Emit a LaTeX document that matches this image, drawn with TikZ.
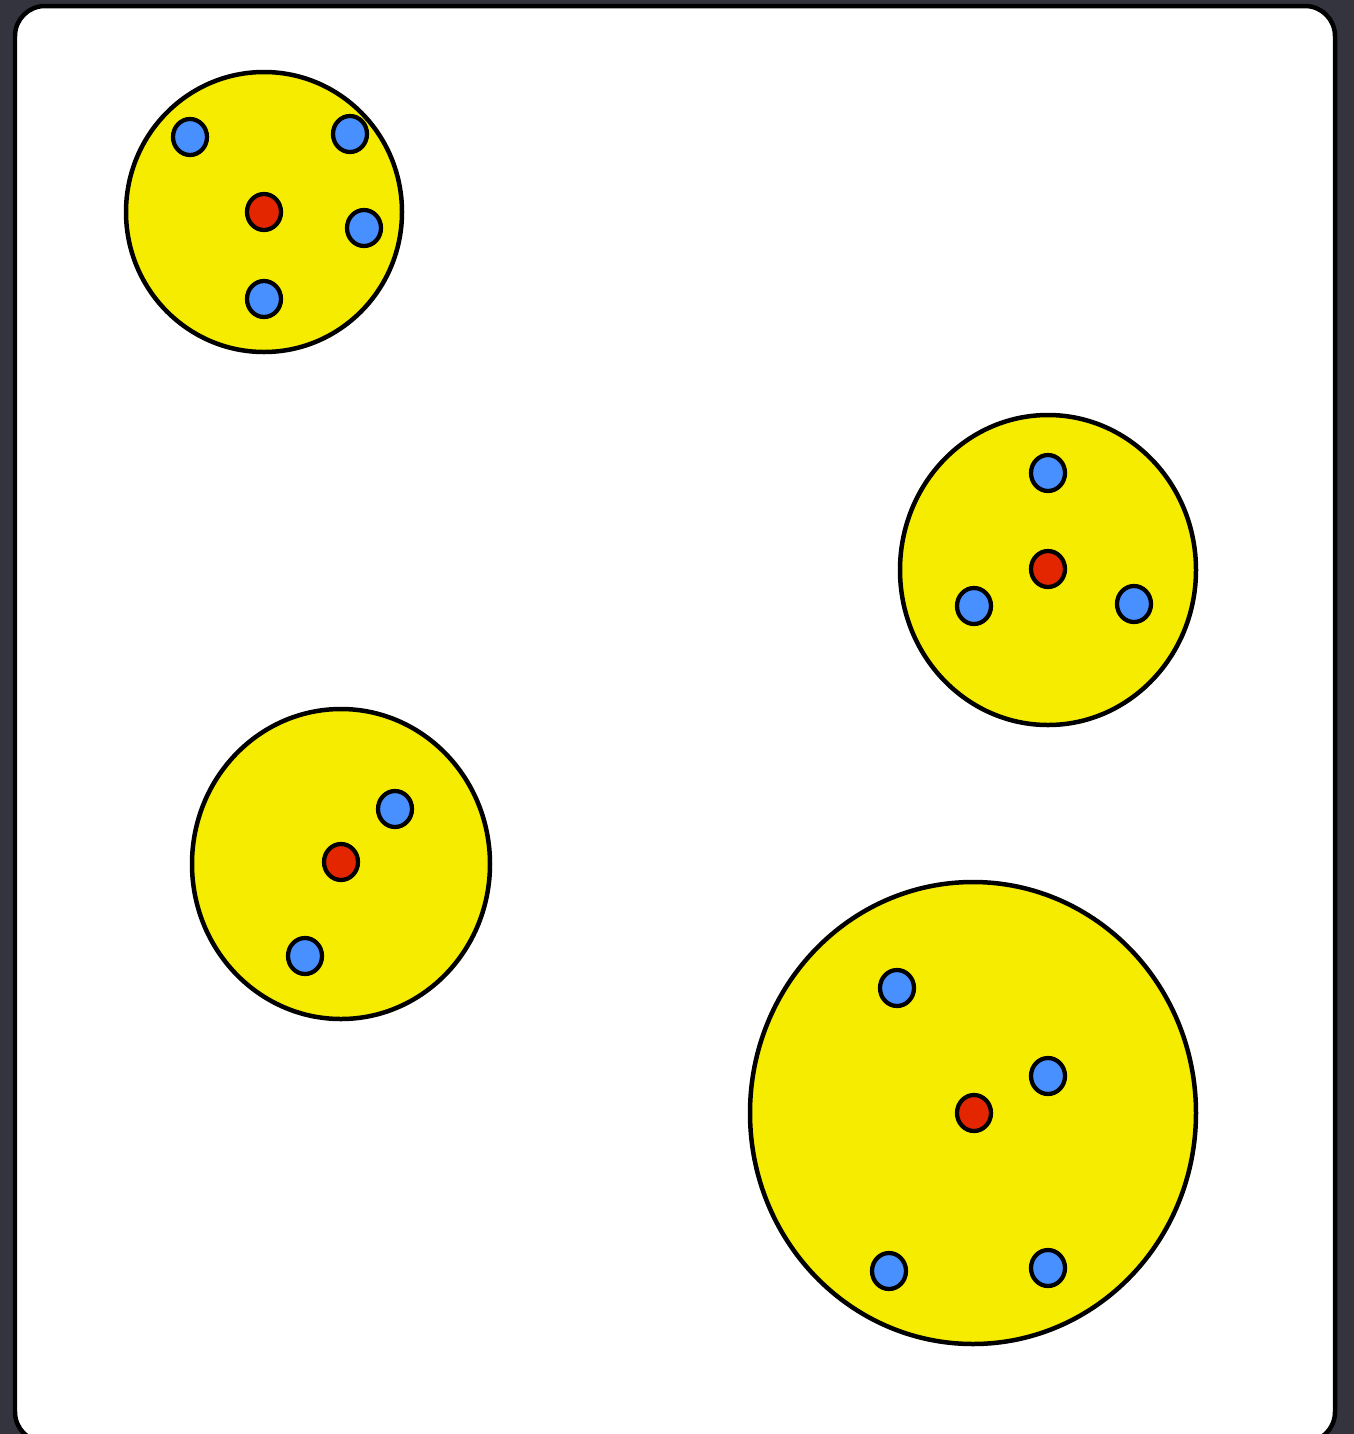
\documentclass[tikz,border=0pt]{standalone}
\usetikzlibrary{calc}

\definecolor{slate}{HTML}{34343F}
\definecolor{blobyellow}{HTML}{F5EC00}
\definecolor{seedred}{HTML}{E32600}
\definecolor{pointblue}{HTML}{4890FF}

\tikzset{
  panel/.style={fill=white, draw=black, line width=0.09cm, rounded corners=0.6cm},
  cluster/.style={fill=blobyellow, draw=black, line width=0.09cm},
  seed/.style={fill=seedred, draw=black, line width=0.085cm},
  point/.style={fill=pointblue, draw=black, line width=0.085cm}
}

\begin{document}
\begin{tikzpicture}[x=0.02cm, y=-0.02cm]
  % frame
  \fill[slate] (0,0) rectangle (1354,1434);
  \useasboundingbox (0,0) rectangle (1354,1434);
  \draw[panel] (15,6) rectangle (1335,1442);

  % clusters: centre x, centre y, radius x, radius y
  \foreach \cx/\cy/\rx/\ry in {264/212/138/140, 1048/570/148/155, 341/864/149/155, 973/1113/223/231} {
    \draw[cluster] (\cx,\cy) ellipse ({\rx} and {\ry});
  }

  % centres
  \foreach \px/\py in {264/212, 1048/569, 341/862, 974/1113} {
    \draw[seed] (\px,\py) ellipse (17 and 18);
  }

  % members
  \foreach \px/\py in {190/137, 350/134, 364/228, 264/299,
                       1048/473, 974/606, 1134/604,
                       395/809, 305/956,
                       897/988, 1048/1076, 889/1271, 1048/1268} {
    \draw[point] (\px,\py) ellipse (17 and 18);
  }
\end{tikzpicture}
\end{document}
